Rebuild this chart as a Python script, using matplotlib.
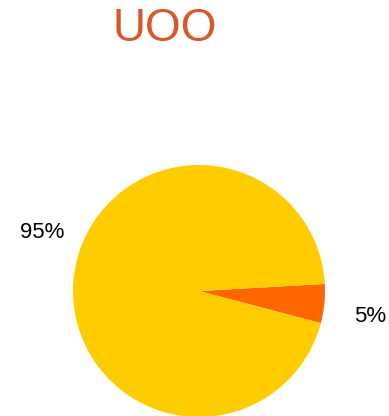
import matplotlib.pyplot as plt

# share of each part
labels = ['5%', '95%']
values = [5, 95]
colors = ['#FF6600', '#FFCC00']

fig = plt.figure(figsize=(3.89, 4.16), dpi=100)
plt.rcParams['font.family'] = ['Liberation Sans', 'DejaVu Sans']

fig.text(0.424, 0.930, 'UOO', color='#D9582B', fontsize=33,
         ha='center', va='center')

ax = fig.add_axes([73 / 389, -1 / 416, 252 / 389, 252 / 416])
wedges, _ = ax.pie(values, colors=colors, startangle=3.2, counterclock=False,
                   radius=1.0, wedgeprops={'linewidth': 0})
ax.set_xlim(-1, 1)
ax.set_ylim(-1, 1)
ax.set_aspect('equal')

ax.text(1.357, -0.206, labels[0], fontsize=16, ha='center', va='center', clip_on=False)
ax.text(-1.246, 0.468, labels[1], fontsize=16, ha='center', va='center', clip_on=False)

fig.savefig('out.png', dpi=100)
